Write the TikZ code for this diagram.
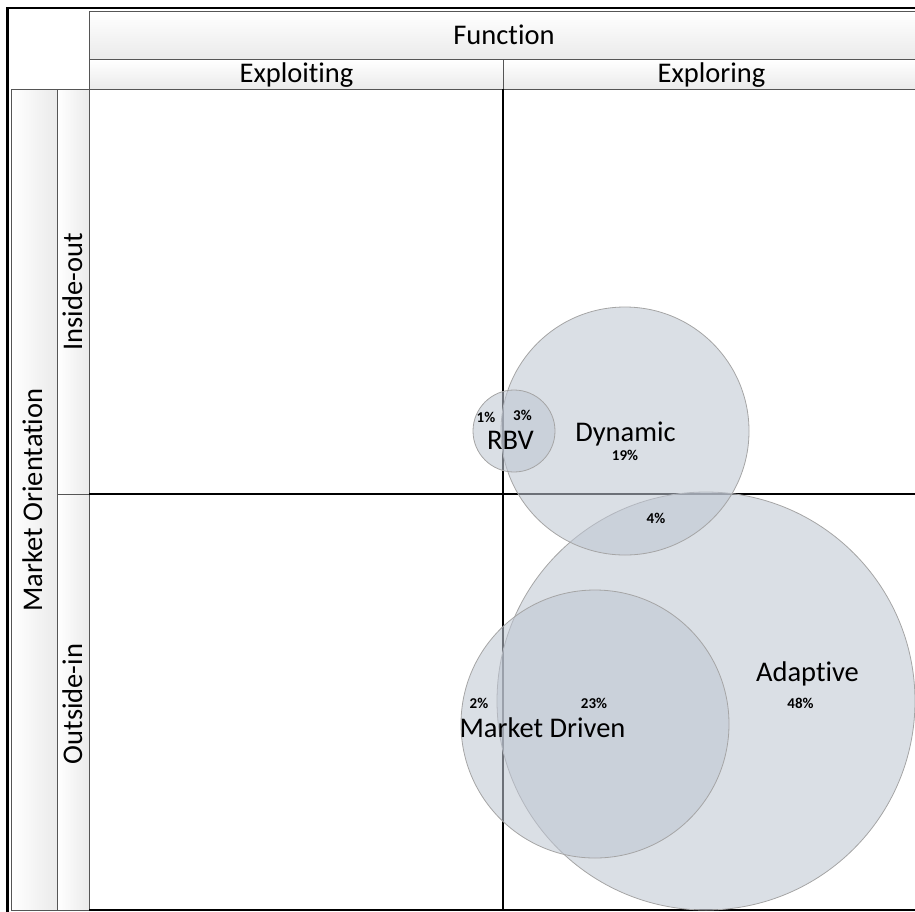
\documentclass[tikz,border=0pt]{standalone}
\usepackage{fontspec}
\setmainfont{Carlito}[Ligatures=NoCommon]
\definecolor{boxline}{RGB}{85,85,85}
\definecolor{boxshade}{RGB}{234,234,234}
\definecolor{bubblefill}{RGB}{190,198,210}
\definecolor{bubbleline}{RGB}{165,165,165}
\begin{document}
\begin{tikzpicture}[x=1pt,y=-1pt,
  hdrbox/.style={draw=boxline, line width=1.2pt, top color=white, bottom color=boxshade, inner sep=0pt, anchor=north west},
  sidebox/.style={draw=boxline, line width=1.2pt, left color=white, right color=boxshade, inner sep=0pt, anchor=north west},
  biglabel/.style={font=\fontsize{28.5}{34}\selectfont, inner sep=0pt, anchor=base},
  pctlabel/.style={font=\fontsize{15}{18}\selectfont\bfseries, inner sep=0pt, anchor=base},
  bubble/.style={circle, draw=bubbleline, line width=0.8pt, fill=bubblefill, fill opacity=0.57, inner sep=0pt},
  gridline/.style={draw=black, line width=1.3pt},
  frameline/.style={draw=black, line width=2.6pt}
]
\useasboundingbox (0,0) rectangle (915,911);
\clip (0,0) rectangle (915,911);

% header boxes
\node[hdrbox, minimum width=828pt, minimum height=48pt] (funbox) at (89,11) {};
\node[hdrbox, minimum width=414pt, minimum height=30pt] (exploitbox) at (89,59) {};
\node[hdrbox, minimum width=414pt, minimum height=30pt] (explorebox) at (503,59) {};

% side bands
\node[sidebox, minimum width=46pt, minimum height=820.5pt] (mobox) at (11,89) {};
\node[sidebox, minimum width=32pt, minimum height=405pt] (inbox) at (57,89) {};
\node[sidebox, minimum width=32pt, minimum height=415.5pt] (outbox) at (57,494) {};

% grid lines
\coordinate (vtop) at (503,89);
\coordinate (vbot) at (503,910);
\coordinate (hleft) at (89,494);
\coordinate (hright) at (915,494);
\draw[gridline] (vtop) -- (vbot);
\draw[gridline] (hleft) -- (hright);

% outer frame
\coordinate (fTL) at (7.5,8);
\coordinate (fBL) at (7.5,912);
\coordinate (fTR) at (916,8);
\coordinate (bL) at (89,910);
\coordinate (bR) at (916,910);
\draw[frameline] (fBL) -- (fTL) -- (fTR);
\draw[frameline, line width=1.8pt] (bL) -- (bR);

% header labels
\node[biglabel] (function) at (504,44) {Function};
\node[biglabel] (exploiting) at (296.5,82.5) {Exploiting};
\node[biglabel] (exploring) at (711.5,82.5) {Exploring};
\node[biglabel, rotate=90] (marketorient) at (42,500) {Market Orientation};
\node[biglabel, rotate=90] (insideout) at (82,292) {Inside-out};
\node[biglabel, rotate=90] (outsidein) at (82,704) {Outside-in};

% bubbles
\node[bubble, minimum size=418pt] (adaptive) at (706,701) {};
\node[bubble, minimum size=268pt] (marketdriven) at (595,724) {};
\node[bubble, minimum size=248pt] (dynamic) at (625,431) {};
\node[bubble, minimum size=82pt] (rbv) at (514,431) {};

% bubble labels
\node[biglabel] (rbvlab) at (510.5,449) {RBV};
\node[pctlabel] (p1) at (486,422) {1\%};
\node[pctlabel] (p3) at (522.5,420) {3\%};
\node[biglabel] (dynlab) at (625.5,441) {Dynamic};
\node[pctlabel] (p19) at (625,460) {19\%};
\node[pctlabel] (p4) at (656,523) {4\%};
\node[biglabel] (adaptlab) at (807.5,681) {Adaptive};
\node[pctlabel] (p48) at (800.5,708) {48\%};
\node[biglabel] (mdlab) at (542.5,737) {Market Driven};
\node[pctlabel] (p2) at (479,708) {2\%};
\node[pctlabel] (p23) at (594,708) {23\%};
\end{tikzpicture}
\end{document}
